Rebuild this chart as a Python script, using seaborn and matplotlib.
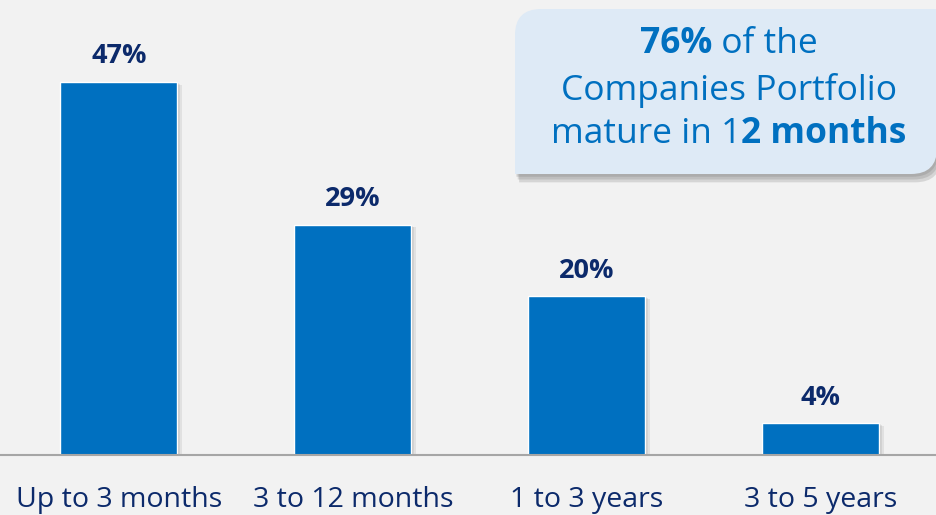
import matplotlib
matplotlib.use("Agg")
import matplotlib.pyplot as plt
import matplotlib.patheffects as pe
from matplotlib.path import Path
from matplotlib.patches import PathPatch
import seaborn as sns
import pandas as pd

categories = ["Up to 3 months", "3 to 12 months", "1 to 3 years", "3 to 5 years"]
shares = [47, 29, 20, 4]
value_labels = ["47%", "29%", "20%", "4%"]

BG = "#F2F2F2"
BAR = "#0070C0"
NAVY = "#0C2A6B"
FONT = "Open Sans"

sns.set_theme(style="white")
plt.rcParams["font.family"] = [FONT, "DejaVu Sans"]

df = pd.DataFrame({"bucket": categories, "share": shares})

fig = plt.figure(figsize=(9.37, 5.15), dpi=100, facecolor=BG)
ax = fig.add_axes([0, 1 - 455 / 515, 1, 455 / 515])
ax.set_facecolor(BG)

sns.barplot(data=df, x="bucket", y="share", color=BAR, width=0.5,
            saturation=1, ax=ax)


def soft_shadow(dx, dy, alpha):
    # a few stacked offsets to fake a blurred drop shadow
    return [pe.SimplePatchShadow(offset=(dx * k, dy * k), shadow_rgbFace="#6f6f6f",
                                 alpha=alpha) for k in (1.0, 0.66, 0.33)] + [pe.Normal()]


for bar in ax.patches:
    bar.set_path_effects(soft_shadow(3, -2, 0.13))

ax.set_xlim(-0.508, 3.496)
ax.set_ylim(0, 57.3)
for s in ["top", "right", "left"]:
    ax.spines[s].set_visible(False)
ax.spines["bottom"].set_color("#A6A6A6")
ax.spines["bottom"].set_linewidth(1.5)
ax.set_yticks([])
ax.set_xlabel("")
ax.set_ylabel("")
ax.tick_params(axis="x", length=0, pad=22, labelsize=20.5, labelcolor=NAVY)

for i, (v, lab) in enumerate(zip(shares, value_labels)):
    ax.annotate(lab, (i, v), xytext=(0, 9), textcoords="offset points",
                ha="center", va="bottom", fontsize=19.5, fontweight="bold", color=NAVY)

# Callout box with rounded top-left and bottom-right corners
W, H = 937, 515
x0, x1, y0, y1, r = 515, 937, 9, 174, 26
def fx(x): return x / W
def fy(y): return 1 - y / H
verts = [
    (fx(x0 + r), fy(y0)), (fx(x1), fy(y0)), (fx(x1), fy(y1 - r)),
    (fx(x1), fy(y1)), (fx(x1 - r), fy(y1)),
    (fx(x0), fy(y1)), (fx(x0), fy(y0 + r)),
    (fx(x0), fy(y0)), (fx(x0 + r), fy(y0)),
]
codes = [Path.MOVETO, Path.LINETO, Path.LINETO, Path.CURVE3, Path.CURVE3,
         Path.LINETO, Path.LINETO, Path.CURVE3, Path.CURVE3]
box = PathPatch(Path(verts, codes), transform=fig.transFigure, facecolor="#DEEAF6",
                edgecolor="none", path_effects=soft_shadow(3, -6, 0.22))
fig.patches.append(box)

renderer = fig.canvas.get_renderer()
lines = [
    [("76%", "bold"), (" of the", "normal")],
    [("Companies Portfolio", "normal")],
    [("mature in 1", "normal"), ("2 months", "bold")],
]
line_y = [44, 90, 134]
cx = 729
for parts, yc in zip(lines, line_y):
    texts = []
    for s, w in parts:
        t = fig.text(0, fy(yc), s, fontsize=25.5, fontweight=w, color=BAR,
                     va="center", ha="left")
        texts.append(t)
    widths = [t.get_window_extent(renderer).width for t in texts]
    xstart = cx - sum(widths) / 2
    for t, wd in zip(texts, widths):
        t.set_x(xstart / W)
        xstart += wd

fig.savefig("out.png", dpi=100, facecolor=BG)
